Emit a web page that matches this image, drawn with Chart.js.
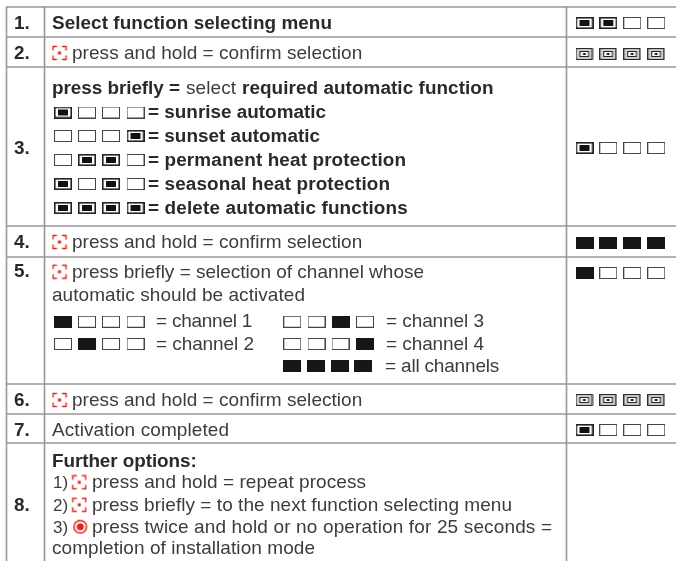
<!DOCTYPE html>
<html><head><meta charset="utf-8">
<script src="https://cdn.jsdelivr.net/npm/chart.js@4"></script>
<style>html,body{margin:0;padding:0;background:#fff}canvas{display:block}</style>
</head><body><canvas id="c" width="676" height="561"></canvas>
<script>
// ---- content ----
const stepLabels = ['1.','2.','3.','4.','5.','6.','7.','8.'];
const stepPatterns = ['ddoo','cccc','dooo','ffff','fooo','cccc','dooo'];
const functionPatterns = ['dooo','oood','oddo','dodo','dddd'];
const functionNames = ['= sunrise automatic','= sunset automatic','= permanent heat protection','= seasonal heat protection','= delete automatic functions'];
const channelPatterns = ['fooo','ofoo','oofo','ooof','ffff'];
const channelNames = ['= channel 1','= channel 2','= channel 3','= channel 4','= all channels'];
const step1Text = 'Select function selecting menu';
const confirmText = 'press and hold = confirm selection';
const step3Lead = ['press briefly =','select','required automatic function'];
const step5Text = ['press briefly = selection of channel whose','automatic should be activated'];
const step7Text = 'Activation completed';
const step8Text = ['Further options:','1)','press and hold = repeat process','2)','press briefly = to the next function selecting menu','3)','press twice and hold or no operation for 25 seconds =','completion of installation mode'];

// ---- layout (separate from content) ----
const W = 676, H = 561;
const REG = '400 19px "Liberation Sans"', BOLD = '700 18.9px "Liberation Sans"', SMALL = '400 17px "Liberation Sans"';
const REGC = '#3c3c3c', BOLDC = '#2a2a2a';
const hRules = [7,37,67,226,257,384,414,443];
const vRules = [6.5,44.5,566.5];
const stepCenterY = [23,54,148,243,273,400,430];
const stepColX = [584.5,608.3,632.3,656.3];
const textColLedX = [63,87,111,135.5];
const fnY = [112.5,136,160,184,208];
const chY = [321.7,344,321.7,344,366];
const chX = [[63,87,111,135.5],[63,87,111,135.5],[292.3,316.5,340.5,365],[292.3,316.5,340.5,365],[292,316,340,363]];
const chTextX = [156,156,386,386,385];
const chTextY = [327,350,327,350,372];
const chTextEnd = [252.3,254,484,484,499.3];
const labelBase = [29,59,154,248,277,406,436,511];
const fnBase = [118,142,166,190,214];
const fnEnd = [326,320,406,390,407.7];

function glyph(w,h,draw){const c=document.createElement('canvas');c.width=w;c.height=h;const g=c.getContext('2d');g.filter='blur(0.35px)';draw(g);return c;}
const DK='#222';
const glyphs = {
  o: glyph(18,12,g=>{g.fillStyle='#fff';g.fillRect(0,0,18,12);g.strokeStyle='#444';g.lineWidth=1;g.strokeRect(.5,.5,17,11);}),
  d: glyph(18,12,g=>{g.strokeStyle=DK;g.lineWidth=1.6;g.strokeRect(.8,.8,16.4,10.4);g.fillStyle='#111';g.fillRect(4,3,10,6);}),
  f: glyph(18,12,g=>{g.fillStyle='#161616';g.fillRect(0,0,18,12);}),
  c: glyph(18,12,g=>{g.strokeStyle='#222';g.lineWidth=1.3;g.strokeRect(.7,.7,16,10.6);g.fillStyle='#ccc';g.fillRect(1.4,1.4,14.6,9.2);g.strokeStyle='#222';g.lineWidth=1;g.fillStyle='#fff';g.fillRect(4.5,3.5,8.5,5);g.strokeRect(4.5,3.5,8.5,5);g.fillStyle='#111';g.fillRect(7.5,5,2.6,2);})
};
const RED='#e0261a';
const press = glyph(16,16,g=>{g.strokeStyle=RED;g.lineWidth=1.4;
  [[1.5,5.5,1.5,1.5,5.5,1.5],[10.5,1.5,14.5,1.5,14.5,5.5],[1.5,10.5,1.5,14.5,5.5,14.5],[10.5,14.5,14.5,14.5,14.5,10.5]].forEach(p=>{g.beginPath();g.moveTo(p[0],p[1]);g.lineTo(p[2],p[3]);g.lineTo(p[4],p[5]);g.stroke();});
  g.fillStyle=RED;g.fillRect(6.5,6.5,3,3);});
const target = glyph(16,16,g=>{g.strokeStyle=RED;g.fillStyle=RED;g.lineWidth=1.5;g.beginPath();g.arc(8,8,6.3,0,7);g.stroke();g.beginPath();g.arc(8,8,3.6,0,7);g.fill();});

const ledPts = {o:[],d:[],f:[],c:[]};
function addRow(pat,xs,y){[...pat].forEach((k,i)=>ledPts[k].push({x:xs[i],y}));}
stepPatterns.forEach((p,i)=>addRow(p,stepColX,stepCenterY[i]));
functionPatterns.forEach((p,i)=>addRow(p,textColLedX,fnY[i]));
channelPatterns.forEach((p,i)=>addRow(p,chX[i],chY[i]));
const pressPts=[[59.5,53],[59.5,242],[59.5,271.7],[59.5,400],[79.3,482.3],[79.3,504.8]].map(([x,y])=>({x,y}));
const targetPts=[{x:80.3,y:526.7}];

const ruleSets=[];
hRules.forEach(y=>ruleSets.push({data:[{x:6,y},{x:676,y}]}));
vRules.forEach((x,i)=>ruleSets.push({data:[{x,y:6.5},{x,y:561}]}));
const ruleDs=ruleSets.map(d=>({type:'scatter',data:d.data,showLine:true,borderColor:'#979797',borderWidth:1.6,pointRadius:0}));
const imgDs=(data,img)=>({type:'scatter',data,pointStyle:img,pointRadius:9,showLine:false});

const texts=[];
function T(x,y,s,bold,end,font){texts.push({x,y,s,bold,end,font});}
stepLabels.forEach((s,i)=>T(14,labelBase[i],s,true));
T(52,29,step1Text,true,332);
[59,248,406].forEach(y=>T(72,y,confirmText,false,362.3));
T(52,94,step3Lead[0],true,180);T(186,94,step3Lead[1],false,236);T(242,94,step3Lead[2],true,493.5);
functionNames.forEach((s,i)=>T(148,fnBase[i],s,true,fnEnd[i]));
T(72,278,step5Text[0],false,424);T(52,301,step5Text[1],false,305);
channelNames.forEach((s,i)=>T(chTextX[i],chTextY[i],s,false,chTextEnd[i]));
T(52,436,step7Text,false,229);
T(52,467,step8Text[0],true,196.7);
T(53,488,step8Text[1],false,0,SMALL);T(92,488,step8Text[2],false,366);
T(53,511,step8Text[3],false,0,SMALL);T(92,511,step8Text[4],false,512);
T(53,533,step8Text[5],false,0,SMALL);T(92,533,step8Text[6],false,552);
T(52,554,step8Text[7],false,315);

const textPlugin={id:'tableText',afterDatasetsDraw(ch){const {ctx,scales:{x,y}}=ch;ctx.save();ctx.textBaseline='alphabetic';ctx.textAlign='left';ctx.filter='blur(0.3px)';
 texts.forEach(t=>{ctx.font=t.font||(t.bold?BOLD:REG);ctx.fillStyle=t.bold?BOLDC:REGC;ctx.letterSpacing='0px';
  if(t.end){const m=ctx.measureText(t.s).width;ctx.letterSpacing=((t.end-t.x-m)/(t.s.length-1)).toFixed(3)+'px';}
  ctx.fillText(t.s,x.getPixelForValue(t.x),y.getPixelForValue(t.y));});ctx.restore();}};

new Chart(document.getElementById('c'),{
 type:'scatter',
 data:{datasets:[...ruleDs,imgDs(ledPts.o,glyphs.o),imgDs(ledPts.d,glyphs.d),imgDs(ledPts.f,glyphs.f),imgDs(ledPts.c,glyphs.c),imgDs(pressPts,press),imgDs(targetPts,target)]},
 options:{responsive:false,animation:false,events:[],layout:{padding:0,autoPadding:false},
  plugins:{legend:{display:false},tooltip:{enabled:false},title:{display:false}},
  scales:{x:{type:'linear',display:false,min:0,max:W},y:{type:'linear',display:false,min:0,max:H,reverse:true}}},
 plugins:[textPlugin]});
</script></body></html>
